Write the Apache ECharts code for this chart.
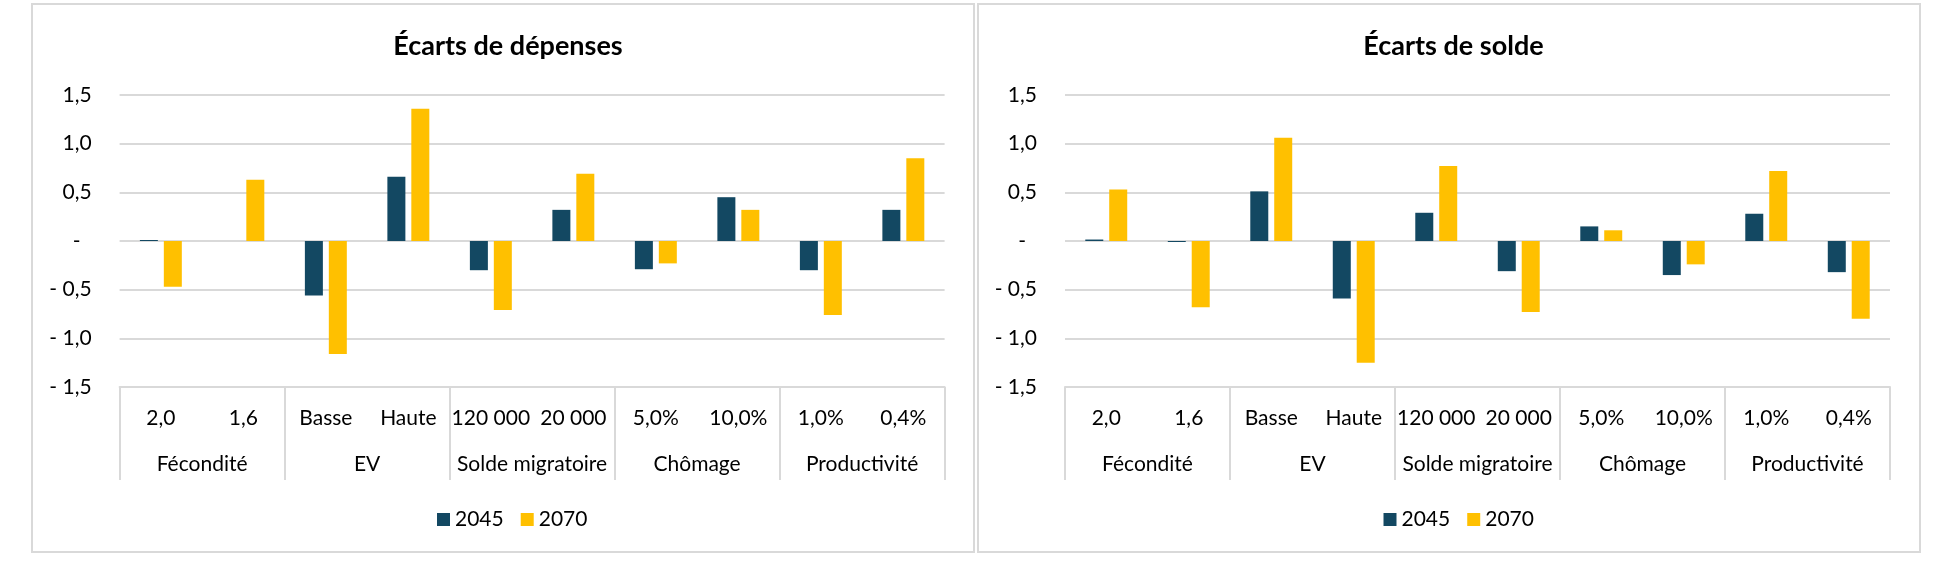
<!DOCTYPE html>
<html>
<head>
<meta charset="utf-8">
<script src="https://cdn.jsdelivr.net/npm/echarts@6/dist/echarts.min.js"></script>
<style>
html,body{margin:0;padding:0;background:#fff;}
#c{width:1948px;height:582px;}
</style>
</head>
<body>
<div id="c"></div>
<script>
// ---- data ----
const subCategories = ['2,0', '1,6', 'Basse', 'Haute', '120 000', '20 000', '5,0%', '10,0%', '1,0%', '0,4%'];
const groupCategories = ['Fécondité', 'EV', 'Solde migratoire', 'Chômage', 'Productivité'];
const seriesNames = ['2045', '2070'];
const depenses2045 = [0.01, 0.0, -0.56, 0.66, -0.30, 0.32, -0.29, 0.45, -0.30, 0.32];
const depenses2070 = [-0.47, 0.63, -1.16, 1.36, -0.71, 0.69, -0.23, 0.32, -0.76, 0.85];
const solde2045 = [0.015, -0.01, 0.51, -0.59, 0.29, -0.31, 0.15, -0.35, 0.28, -0.32];
const solde2070 = [0.53, -0.68, 1.06, -1.25, 0.77, -0.73, 0.11, -0.24, 0.72, -0.80];
const yTickValues = [-1.5, -1.0, -0.5, 0, 0.5, 1.0, 1.5];
const yTickLabels = ['- 1,5', '- 1,0', '- 0,5', '-', '0,5', '1,0', '1,5'];
const titles = ['Écarts de dépenses', 'Écarts de solde'];

// ---- styling ----
const FONT = 'Lato';
const GRID_COLOR = '#d9d9d9';
const C2045 = '#134862';
const C2070 = '#FFC000';

function yLabel(v) {
  const i = yTickValues.findIndex(t => Math.abs(t - v) < 1e-9);
  const s = i >= 0 ? yTickLabels[i] : String(v);
  return s === '-' ? '{z|-}' : s;
}

const panels = [
  { left: 119.6, right: 1948 - 944.6, titleX: 503, legendX: 432, boxX: 32, boxW: 942 },
  { left: 1065, right: 1948 - 1890, titleX: 1448.5, legendX: 1378.5, boxX: 978, boxW: 942 }
];

const grids = [], xAxes = [], yAxes = [], titleOpts = [], legends = [], graphics = [];
panels.forEach((p, i) => {
  grids.push({ left: p.left, right: p.right, top: 95, bottom: 195, containLabel: false });
  xAxes.push({
    type: 'category', gridIndex: i, data: subCategories, position: 'bottom',
    axisLine: { show: true, onZero: false, lineStyle: { color: GRID_COLOR, width: 2 } },
    axisTick: { show: false },
    axisLabel: { interval: 0, margin: 21, fontFamily: FONT, fontSize: 21, color: '#000' },
    splitLine: { show: false }
  });
  xAxes.push({
    type: 'category', gridIndex: i, data: groupCategories, position: 'bottom',
    axisLine: { show: false, onZero: false },
    axisTick: { show: true, interval: 0, length: 93, lineStyle: { color: GRID_COLOR, width: 2 } },
    axisLabel: { interval: 0, margin: 67, fontFamily: FONT, fontSize: 21, color: '#000' },
    splitLine: { show: false }
  });
  yAxes.push({
    type: 'value', gridIndex: i, min: -1.5, max: 1.5, interval: 0.5,
    axisLine: { show: false }, axisTick: { show: false },
    splitLine: { lineStyle: { color: GRID_COLOR, width: 2 } },
    axisLabel: {
      margin: 28, fontFamily: FONT, fontSize: 21, color: '#000',
      formatter: yLabel,
      rich: { z: { fontFamily: FONT, fontSize: 21, color: '#000', padding: [0, 11, 0, 0] } }
    }
  });
  titleOpts.push({
    text: titles[i], left: p.titleX, top: 28, textAlign: 'center',
    textStyle: { fontFamily: FONT, fontWeight: 'bold', fontSize: 27, color: '#000' }
  });
  legends.push({
    data: seriesNames, left: p.legendX, top: 504, itemWidth: 13, itemHeight: 13, itemGap: 17,
    icon: 'rect', textStyle: { fontFamily: FONT, fontSize: 21, color: '#000' }
  });
  graphics.push({
    type: 'rect', shape: { x: p.boxX, y: 4, width: p.boxW, height: 548 },
    style: { fill: 'none', stroke: GRID_COLOR, lineWidth: 2 }, silent: true, z: -10
  });
});

function barSeries(name, data, gi, color) {
  return {
    name: name, type: 'bar', data: data,
    xAxisIndex: gi * 2, yAxisIndex: gi,
    barWidth: 18, barGap: '33%',
    itemStyle: { color: color }
  };
}

const option = {
  animation: false,
  backgroundColor: '#fff',
  textStyle: { fontFamily: FONT },
  color: [C2045, C2070],
  title: titleOpts,
  legend: legends,
  grid: grids,
  xAxis: xAxes,
  yAxis: yAxes,
  graphic: graphics,
  series: [
    barSeries(seriesNames[0], depenses2045, 0, C2045),
    barSeries(seriesNames[1], depenses2070, 0, C2070),
    barSeries(seriesNames[0], solde2045, 1, C2045),
    barSeries(seriesNames[1], solde2070, 1, C2070)
  ]
};

const chart = echarts.init(document.getElementById('c'), null, { renderer: 'canvas' });
chart.setOption(option);
</script>
</body>
</html>
